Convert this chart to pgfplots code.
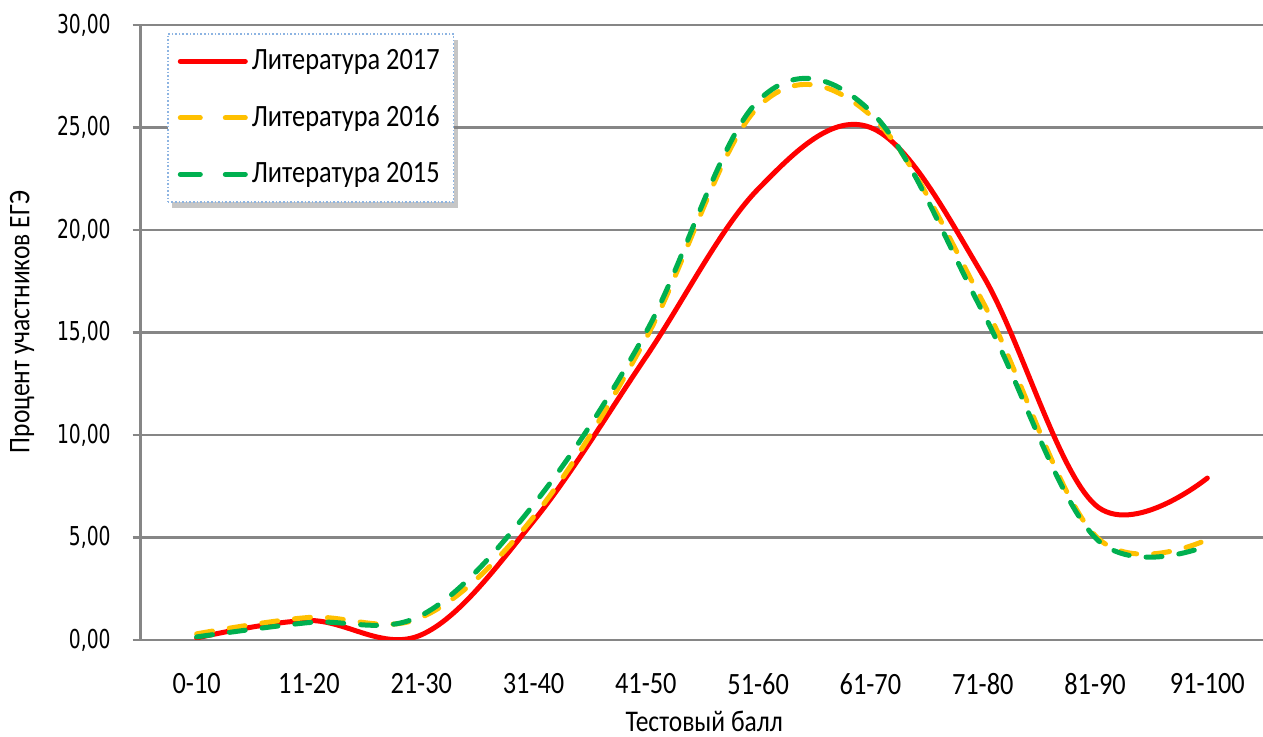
\documentclass[border=0pt]{standalone}
\usepackage{fontspec}
\setmainfont{Carlito}[FakeStretch=0.85]
\newfontfamily\tickfont{DejaVu Sans}[FakeStretch=0.72]
\usepackage{pgfplots}
\pgfplotsset{compat=1.18}
\usetikzlibrary{shadows}
\definecolor{lit17}{RGB}{255,0,0}
\definecolor{lit16}{RGB}{255,192,0}
\definecolor{lit15}{RGB}{0,176,80}
\definecolor{gridgray}{RGB}{134,134,134}
\definecolor{legblue}{RGB}{141,180,226}

% the legend's drop shadow must not reach the little lines inside it
\makeatletter
\tikzset{no preactions/.code={\let\tikz@preactions\pgfutil@empty}}
\makeatother

\pgfplotsset{
  solidleg/.style={legend image code/.code={
    \draw[##1, no preactions, solid, line cap=round] (1.25pt,0pt) -- (33.75pt,0pt);}},
  dashleg/.style={legend image code/.code={
    \draw[##1, no preactions, solid, line cap=round] (1.25pt,0pt) -- (11.25pt,0pt) (23.75pt,0pt) -- (33.75pt,0pt);}},
  litline/.style={line width=2.5pt, smooth, tension=0.6, line cap=round, line join=round},
  litdash/.style={litline, dash pattern=on 8pt off 8.5pt},
}

\begin{document}
\begin{tikzpicture}
\path[use as bounding box] (0,0) rectangle (631.5pt,368.5pt);
\begin{axis}[
  at={(70.25pt,48.5pt)}, anchor=south west,
  scale only axis, width=561.5pt, height=307.5pt,
  xmin=-0.5, xmax=9.5, ymin=0, ymax=30,
  xtick={0,...,9},
  xticklabels={0-10,11-20,21-30,31-40,41-50,51-60,61-70,71-80,81-90,91-100},
  ytick={0,5,...,30},
  axis x line=bottom, axis y line=left,
  axis line style={gridgray, line width=1.2pt, -},
  ymajorgrids, major grid style={gridgray, line width=1.2pt},
  x tick style={draw=none},
  y tick style={gridgray, line width=1.2pt},
  tick align=outside, major tick length=4pt,
  xticklabel style={anchor=center, yshift=-18pt, font=\fontsize{15.5pt}{18pt}\selectfont},
  yticklabel style={/pgf/number format/fixed, /pgf/number format/fixed zerofill,
    /pgf/number format/precision=2, /pgf/number format/use comma,
    /pgf/number format/assume math mode=true,
    font=\tickfont\fontsize{13pt}{15pt}\selectfont, anchor=east, inner sep=0pt, xshift=-10.75pt},
  xlabel={Тестовый балл},
  ylabel={Процент участников ЕГЭ},
  every axis x label/.style={at={(axis description cs:0.502,-0.133)}, anchor=center,
    font=\fontsize{15pt}{18pt}\selectfont},
  every axis y label/.style={at={(axis description cs:-0.1055,0.517)}, rotate=90, anchor=center,
    font=\fontsize{15pt}{18pt}\selectfont},
  legend style={at={(0.0236,0.987)}, anchor=north west, draw=legblue, densely dotted,
    line width=0.8pt, fill=white,
    drop shadow={shadow xshift=2pt, shadow yshift=-3pt, opacity=0.45, fill=gray},
    font=\fontsize{15.5pt}{18pt}\selectfont, row sep=12.5pt,
    inner xsep=5pt, inner ysep=6pt,
    /tikz/every even column/.append style={column sep=2.5pt}},
  legend cell align=left,
]
\addplot[litline, lit17, solidleg] coordinates {
  (0,0.10) (1,0.95) (2,0.25) (3,5.8) (4,13.8) (5,22.0) (6,25.0) (7,17.8) (8,6.6) (9,7.9)};
\addlegendentry{Литература 2017}
\addplot[litdash, lit16, dashleg] coordinates {
  (0,0.30) (1,1.10) (2,1.10) (3,6.0) (4,14.7) (5,26.0) (6,25.6) (7,16.5) (8,5.1) (9,4.9)};
\addlegendentry{Литература 2016}
\addplot[litdash, lit15, dashleg] coordinates {
  (0,0.15) (1,0.85) (2,1.20) (3,6.6) (4,15.0) (5,26.3) (6,25.8) (7,16.0) (8,5.0) (9,4.6)};
\addlegendentry{Литература 2015}
\end{axis}
\end{tikzpicture}
\end{document}
